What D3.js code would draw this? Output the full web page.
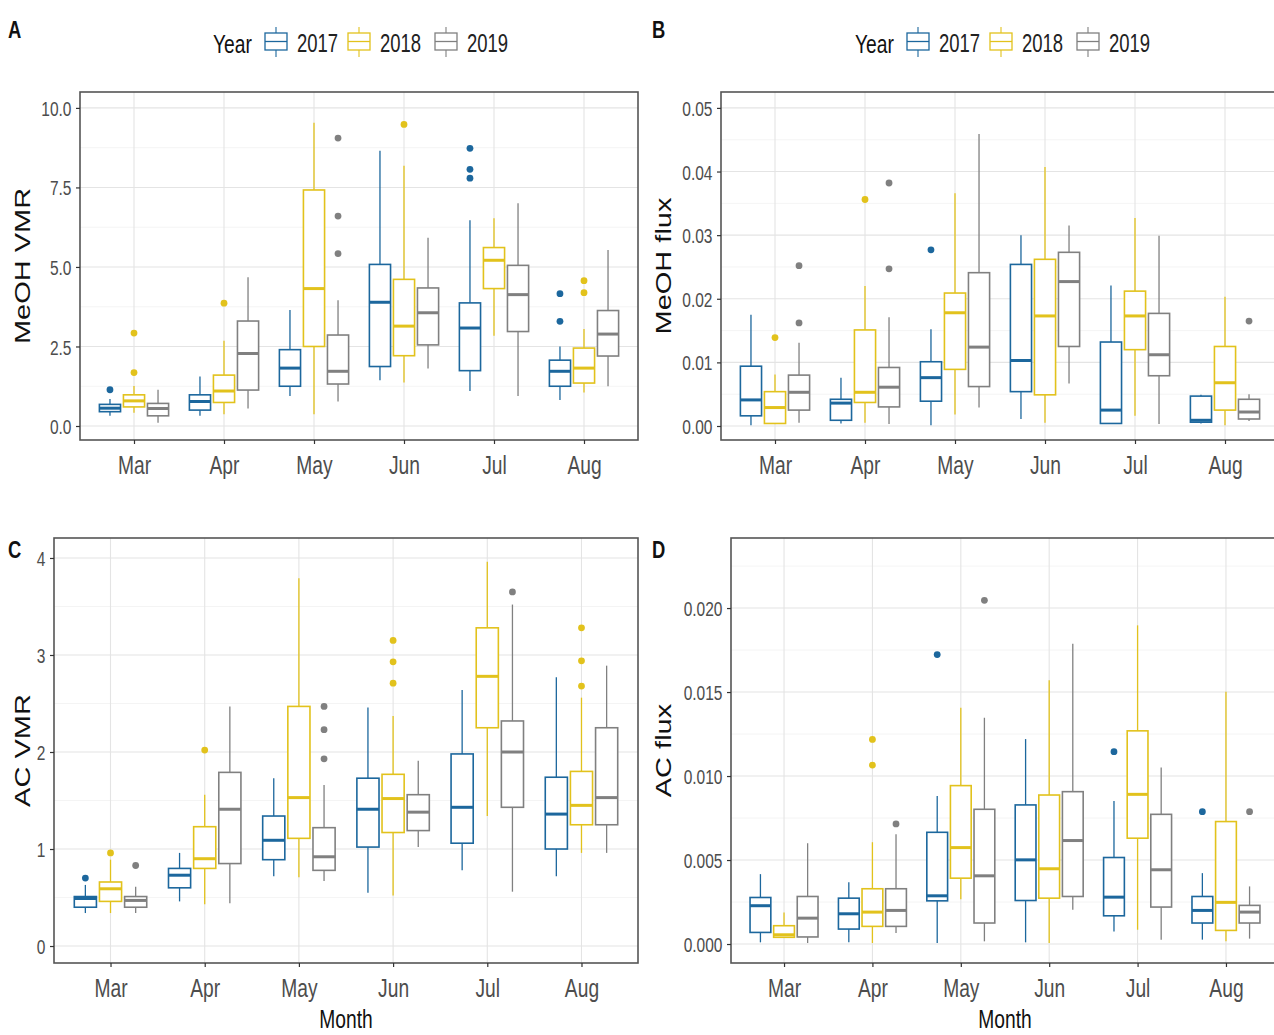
<!DOCTYPE html>
<html>
<head>
<meta charset="utf-8">
<script src="https://cdn.jsdelivr.net/npm/d3@7"></script>
<style>
  body { margin: 0; background: #fff; }
  text { font-family: "Liberation Sans", Arial, sans-serif; }
</style>
</head>
<body>
<script>
var months = ["Mar", "Apr", "May", "Jun", "Jul", "Aug"];
var years = ["2017", "2018", "2019"];
var yearColors = ["#1c679d", "#e2c21c", "#808080"];

// A: MeOH VMR  (rows = 2017, 2018, 2019; columns = Mar..Aug)
var aLo  = [[0.32, 0.32, 0.94, 1.44, 1.10, 0.82], [0.42, 0.37, 0.37, 1.37, 2.84, 1.05], [0.10, 0.55, 0.77, 1.81, 0.94, 1.25]];
var aQ1  = [[0.45, 0.50, 1.25, 1.87, 1.74, 1.25], [0.60, 0.74, 2.50, 2.21, 4.32, 1.35], [0.32, 1.13, 1.32, 2.55, 2.97, 2.20]];
var aMed = [[0.56, 0.77, 1.82, 3.89, 3.08, 1.72], [0.79, 1.10, 4.32, 3.14, 5.21, 1.82], [0.55, 2.28, 1.72, 3.56, 4.13, 2.89]];
var aQ3  = [[0.68, 0.98, 2.40, 5.08, 3.87, 2.07], [0.98, 1.60, 7.42, 4.61, 5.61, 2.45], [0.71, 3.30, 2.86, 4.34, 5.05, 3.63]];
var aHi  = [[0.85, 1.56, 3.65, 8.65, 6.47, 2.50], [1.26, 2.68, 9.53, 8.18, 6.53, 3.05], [1.14, 4.68, 3.95, 5.92, 7.00, 5.53]];
var aOut = [[[1.14], [], [], [], [7.79, 8.07, 8.73], [3.29, 4.16]],
            [[1.68, 2.92], [3.86], [], [9.48], [], [4.19, 4.57]],
            [[], [], [5.42, 6.60, 9.05], [], [], []]];

// B: MeOH flux
var bLo  = [[0.0001, 0.0004, 0.0001, 0.0011, 0.0003, 0.0004], [0.0004, 0.0005, 0.0018, 0.0005, 0.0016, 0.0001], [0.0005, 0.0003, 0.0029, 0.0067, 0.0003, 0.0008]];
var bQ1  = [[0.0016, 0.0009, 0.0039, 0.0054, 0.0004, 0.0006], [0.0004, 0.0037, 0.0089, 0.0049, 0.0120, 0.0025], [0.0025, 0.0030, 0.0062, 0.0125, 0.0079, 0.0011]];
var bMed = [[0.0041, 0.0036, 0.0076, 0.0103, 0.0025, 0.0009], [0.0029, 0.0053, 0.0178, 0.0173, 0.0173, 0.0068], [0.0053, 0.0061, 0.0124, 0.0227, 0.0112, 0.0022]];
var bQ3  = [[0.0094, 0.0042, 0.0101, 0.0254, 0.0132, 0.0047], [0.0054, 0.0151, 0.0209, 0.0262, 0.0212, 0.0125], [0.0080, 0.0092, 0.0241, 0.0273, 0.0177, 0.0042]];
var bHi  = [[0.0175, 0.0076, 0.0152, 0.0300, 0.0221, 0.0049], [0.0081, 0.0220, 0.0366, 0.0407, 0.0327, 0.0203], [0.0131, 0.0171, 0.0459, 0.0315, 0.0299, 0.0050]];
var bOut = [[[], [], [0.0277], [], [], []],
            [[0.0139], [0.0356], [], [], [], []],
            [[0.0162, 0.0252], [0.0247, 0.0382], [], [], [], [0.0165]]];

// C: AC VMR
var cLo  = [[0.34, 0.46, 0.72, 0.55, 0.78, 0.72], [0.34, 0.43, 0.71, 0.52, 1.34, 0.96], [0.34, 0.44, 0.67, 1.02, 0.56, 0.96]];
var cQ1  = [[0.40, 0.60, 0.89, 1.02, 1.06, 1.00], [0.46, 0.80, 1.11, 1.17, 2.25, 1.25], [0.40, 0.85, 0.78, 1.19, 1.43, 1.25]];
var cMed = [[0.49, 0.73, 1.09, 1.41, 1.43, 1.36], [0.59, 0.90, 1.53, 1.52, 2.78, 1.45], [0.47, 1.41, 0.92, 1.38, 2.00, 1.53]];
var cQ3  = [[0.51, 0.80, 1.34, 1.73, 1.98, 1.74], [0.66, 1.23, 2.47, 1.77, 3.28, 1.80], [0.51, 1.79, 1.22, 1.56, 2.32, 2.25]];
var cHi  = [[0.63, 0.96, 1.73, 2.46, 2.64, 2.77], [0.89, 1.56, 3.79, 2.37, 3.96, 2.56], [0.61, 2.47, 1.66, 1.91, 3.52, 2.89]];
var cOut = [[[0.70], [], [], [], [], []],
            [[0.96], [2.02], [], [2.71, 2.93, 3.15], [], [2.68, 2.94, 3.28]],
            [[0.83], [], [1.93, 2.23, 2.47], [], [3.65], []]];

// D: AC flux
var dLo  = [[0.00010, 0.00010, 0.00006, 0.00010, 0.00075, 0.00026], [0.00036, 0.00006, 0.00267, 0.00006, 0.00085, 0.00016], [0.00006, 0.00065, 0.00016, 0.00204, 0.00026, 0.00032]];
var dQ1  = [[0.00069, 0.00089, 0.00257, 0.00259, 0.00168, 0.00125], [0.00040, 0.00105, 0.00392, 0.00273, 0.00630, 0.00081], [0.00042, 0.00105, 0.00125, 0.00283, 0.00220, 0.00125]];
var dMed = [[0.00228, 0.00180, 0.00287, 0.00501, 0.00279, 0.00200], [0.00055, 0.00190, 0.00574, 0.00448, 0.00891, 0.00248], [0.00154, 0.00200, 0.00406, 0.00616, 0.00442, 0.00190]];
var dQ3  = [[0.00277, 0.00273, 0.00665, 0.00828, 0.00515, 0.00283], [0.00109, 0.00329, 0.00943, 0.00887, 0.01269, 0.00729], [0.00283, 0.00329, 0.00802, 0.00907, 0.00772, 0.00230]];
var dHi  = [[0.00416, 0.00368, 0.00881, 0.01220, 0.00851, 0.00422], [0.00188, 0.00606, 0.01406, 0.01570, 0.01897, 0.01501], [0.00600, 0.00653, 0.01347, 0.01788, 0.01051, 0.00343]];
var dOut = [[[], [], [0.01723], [], [0.01145], [0.00788]],
            [[], [0.01065, 0.01218], [], [], [], []],
            [[], [0.00715], [0.02046], [], [], [0.00788]]];

var W = 1274, H = 1035, SX = 0.74;

var svg = d3.select("body").append("svg")
    .attr("width", W)
    .attr("height", H);

function boxes(lo, q1, med, q3, hi, out) {
  var list = [];
  years.forEach(function(yr, i) {
    months.forEach(function(m, j) {
      list.push({m: m, yi: i, lo: lo[i][j], q1: q1[i][j], med: med[i][j], q3: q3[i][j], hi: hi[i][j], out: out[i][j]});
    });
  });
  return list;
}

function drawPanel(p) {
  var x = d3.scalePoint().domain(months).range([p.left, p.right]).padding(0.6);
  var y = d3.scaleLinear().domain(p.domain).range([p.bottom, p.top]);
  var step = x.step();
  var g = svg.append("g");

  var clip = "clip" + p.letter;
  svg.append("clipPath").attr("id", clip)
    .append("rect").attr("x", p.left).attr("y", p.top)
    .attr("width", p.right - p.left).attr("height", p.bottom - p.top);
  var plot = g.append("g").attr("clip-path", "url(#" + clip + ")");

  // minor grid
  var dt = p.ticks[1] - p.ticks[0];
  var minor = [];
  for (var v = p.ticks[0] - dt / 2; v <= p.domain[1]; v += dt) {
    if (v >= p.domain[0]) minor.push(v);
  }
  plot.selectAll(".minor").data(minor).enter().append("line")
    .attr("x1", p.left).attr("x2", p.right)
    .attr("y1", function(d) { return y(d); }).attr("y2", function(d) { return y(d); })
    .attr("stroke", "#f1f1f1").attr("stroke-width", 0.8);
  plot.selectAll(".major").data(p.ticks).enter().append("line")
    .attr("x1", p.left).attr("x2", p.right)
    .attr("y1", function(d) { return y(d); }).attr("y2", function(d) { return y(d); })
    .attr("stroke", "#e4e4e4").attr("stroke-width", 1.1);
  plot.selectAll(".vgrid").data(months).enter().append("line")
    .attr("x1", function(d) { return x(d); }).attr("x2", function(d) { return x(d); })
    .attr("y1", p.top).attr("y2", p.bottom)
    .attr("stroke", "#e4e4e4").attr("stroke-width", 1.1);

  var data = boxes(p.lo, p.q1, p.med, p.q3, p.hi, p.out);
  var bw = 0.235 * step;
  var cx = function(d) { return x(d.m) + (d.yi - 1) * 0.267 * step; };
  var col = function(d) { return yearColors[d.yi]; };

  var bx = plot.selectAll(".box").data(data).enter().append("g");
  bx.append("line")
    .attr("x1", cx).attr("x2", cx)
    .attr("y1", function(d) { return y(d.hi); }).attr("y2", function(d) { return y(d.q3); })
    .attr("stroke", col).attr("stroke-width", 1.3);
  bx.append("line")
    .attr("x1", cx).attr("x2", cx)
    .attr("y1", function(d) { return y(d.q1); }).attr("y2", function(d) { return y(d.lo); })
    .attr("stroke", col).attr("stroke-width", 1.3);
  bx.append("rect")
    .attr("x", function(d) { return cx(d) - bw / 2; })
    .attr("y", function(d) { return y(d.q3); })
    .attr("width", bw)
    .attr("height", function(d) { return y(d.q1) - y(d.q3); })
    .attr("fill", "#fff").attr("stroke", col).attr("stroke-width", 1.6);
  bx.append("line")
    .attr("x1", function(d) { return cx(d) - bw / 2; })
    .attr("x2", function(d) { return cx(d) + bw / 2; })
    .attr("y1", function(d) { return y(d.med); }).attr("y2", function(d) { return y(d.med); })
    .attr("stroke", col).attr("stroke-width", 3);
  bx.selectAll("circle").data(function(d) { return d.out.map(function(o) { return {v: o, d: d}; }); })
    .enter().append("circle")
    .attr("cx", function(o) { return cx(o.d); })
    .attr("cy", function(o) { return y(o.v); })
    .attr("r", 3.4)
    .attr("fill", function(o) { return col(o.d); });

  // panel border
  g.append("rect")
    .attr("x", p.left).attr("y", p.top)
    .attr("width", p.right - p.left).attr("height", p.bottom - p.top)
    .attr("fill", "none").attr("stroke", "#555").attr("stroke-width", 1.6);

  // axes
  var ya = g.append("g")
    .attr("transform", "translate(" + p.left + ",0)")
    .call(d3.axisLeft(y).tickValues(p.ticks).tickFormat(d3.format(p.fmt)).tickSize(4));
  ya.select(".domain").remove();
  ya.selectAll("line").attr("stroke", "#333").attr("stroke-width", 1.2);
  ya.selectAll("text")
    .attr("x", -8.5 / SX).attr("dy", "0.36em")
    .attr("transform", "scale(" + SX + ",1)")
    .attr("fill", "#4d4d4d").style("font-size", "21px");

  var xa = g.append("g")
    .attr("transform", "translate(0," + p.bottom + ")")
    .call(d3.axisBottom(x).tickSize(4));
  xa.select(".domain").remove();
  xa.selectAll("line").attr("stroke", "#333").attr("stroke-width", 1.2);
  xa.selectAll("text")
    .attr("y", 34).attr("dy", 0)
    .attr("transform", "scale(" + SX + ",1)")
    .attr("x", 0)
    .attr("fill", "#4d4d4d").style("font-size", "26px");

  // y title
  svg.append("text")
    .attr("transform", "translate(" + p.titleX + "," + ((p.top + p.bottom) / 2) + ") rotate(-90) scale(1," + SX + ")")
    .attr("text-anchor", "middle")
    .style("font-size", "29px")
    .attr("fill", "#111")
    .text(p.title);

  // panel letter
  svg.append("text")
    .attr("transform", "translate(" + p.letterX + "," + p.letterY + ") scale(0.8,1)")
    .style("font-size", "23px").style("font-weight", "bold")
    .attr("fill", "#111")
    .text(p.letter);

  if (p.month) {
    svg.append("text")
      .attr("transform", "translate(" + ((p.left + p.right) / 2) + ",1028) scale(" + SX + ",1)")
      .attr("text-anchor", "middle")
      .style("font-size", "26px")
      .attr("fill", "#111")
      .text("Month");
  }

  if (p.legendX != null) drawLegend(p.legendX);
}

function drawLegend(x0) {
  var lg = svg.append("g").attr("transform", "translate(" + x0 + ",0)");
  lg.append("text")
    .attr("transform", "translate(0,53) scale(" + SX + ",1)")
    .style("font-size", "26px").attr("fill", "#111")
    .text("Year");
  var keyX = [52, 135, 222];
  var item = lg.selectAll(".key").data(years).enter().append("g")
    .attr("transform", function(d, i) { return "translate(" + keyX[i] + ",0)"; });
  item.append("line")
    .attr("x1", 11).attr("x2", 11).attr("y1", 27).attr("y2", 57)
    .attr("stroke", function(d, i) { return yearColors[i]; }).attr("stroke-width", 1.1);
  item.append("rect")
    .attr("x", 0).attr("y", 33).attr("width", 22).attr("height", 17)
    .attr("fill", "#fff")
    .attr("stroke", function(d, i) { return yearColors[i]; }).attr("stroke-width", 1.3);
  item.append("line")
    .attr("x1", 0).attr("x2", 22).attr("y1", 41.5).attr("y2", 41.5)
    .attr("stroke", function(d, i) { return yearColors[i]; }).attr("stroke-width", 1.3);
  item.append("text")
    .attr("transform", "translate(32,52) scale(" + SX + ",1)")
    .style("font-size", "25px").attr("fill", "#222")
    .text(function(d) { return d; });
}

drawPanel({letter: "A", letterX: 8, letterY: 38, left: 80, right: 638, top: 92, bottom: 440,
  domain: [-0.44, 10.5], ticks: [0, 2.5, 5, 7.5, 10], fmt: ".1f", title: "MeOH VMR", titleX: 30,
  lo: aLo, q1: aQ1, med: aMed, q3: aQ3, hi: aHi, out: aOut, legendX: 213, month: false});

drawPanel({letter: "B", letterX: 652, letterY: 38, left: 721, right: 1279, top: 92, bottom: 440,
  domain: [-0.0022, 0.0525], ticks: [0, 0.01, 0.02, 0.03, 0.04, 0.05], fmt: ".2f", title: "MeOH flux", titleX: 671,
  lo: bLo, q1: bQ1, med: bMed, q3: bQ3, hi: bHi, out: bOut, legendX: 855, month: false});

drawPanel({letter: "C", letterX: 8, letterY: 558, left: 54, right: 638, top: 538, bottom: 963,
  domain: [-0.175, 4.206], ticks: [0, 1, 2, 3, 4], fmt: "d", title: "AC VMR", titleX: 30,
  lo: cLo, q1: cQ1, med: cMed, q3: cQ3, hi: cHi, out: cOut, legendX: null, month: true});

drawPanel({letter: "D", letterX: 652, letterY: 558, left: 731, right: 1279, top: 538, bottom: 963,
  domain: [-0.00113, 0.02417], ticks: [0, 0.005, 0.01, 0.015, 0.02], fmt: ".3f", title: "AC flux", titleX: 671,
  lo: dLo, q1: dQ1, med: dMed, q3: dQ3, hi: dHi, out: dOut, legendX: null, month: true});
</script>
</body>
</html>
